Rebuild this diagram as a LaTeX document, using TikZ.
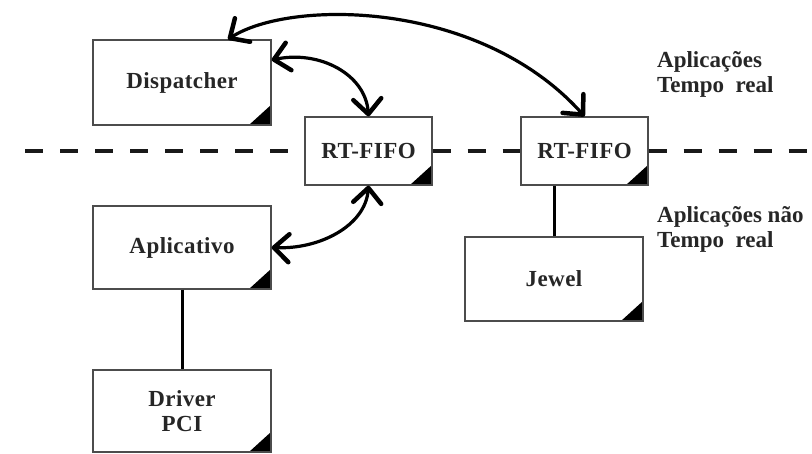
\documentclass[tikz,border=0pt]{standalone}
\usepackage{fontspec}
\setmainfont[LetterSpace=2]{Liberation Serif}
\newfontfamily\regionfont{Liberation Serif}
\usetikzlibrary{arrows.meta}
\tikzset{chbarb/.tip={Straight Barb[length=15pt,width=28pt,line width=4.5pt,round]}}
\begin{document}
\begin{tikzpicture}[x=1pt,y=-1pt,
  txt/.style={text=black!85, font=\bfseries\fontsize{23}{25}\selectfont},
  box/.style={txt, draw=black!70, line width=1.3pt, fill=white, inner sep=0pt,
    minimum width=178pt, align=center,
    path picture={\fill[black] (path picture bounding box.south east)
      -- ++(-22pt,0pt) -- ++(22pt,20pt) -- cycle;}},
  fifo/.style={box, minimum width=127pt, minimum height=68pt},
  lbl/.style={text=black!85, font=\regionfont\bfseries\fontsize{23}{25}\selectfont,
    inner sep=0pt, align=left},
  link/.style={line width=3pt, black},
  sep/.style={line width=4pt, black!90, dash pattern=on 18pt off 17pt},
  duplex/.style={line width=3.2pt, black, chbarb-chbarb}
]
\useasboundingbox (0,0) rectangle (812,454);

% real-time boundary
\coordinate (sepL) at (25,151);
\coordinate (sepR) at (812,151);

% processes and queues
\node[box, minimum height=85pt] (disp) at (182,82.5) {Dispatcher};
\node[fifo] (fifo1) at (368.5,151) {RT-FIFO};
\node[fifo] (fifo2) at (584.5,151) {RT-FIFO};
\node[box, minimum height=83pt] (apl) at (182,247.5) {Aplicativo};
\node[box, minimum height=82pt] (drv) at (182,411) {Driver\\PCI};
\node[box, minimum height=84pt] (jewel) at (554,279) {Jewel};

\draw[sep] (sepL) -- (fifo1.west);
\draw[sep] (fifo1.east) -- (fifo2.west);
\draw[sep] (fifo2.east) -- (sepR);

% region labels (base anchor sits on the last line)
\node[lbl, anchor=base west] (rtlbl) at (657,93) {Aplicações\\Tempo\ \ real};
\node[lbl, anchor=base west] (nrtlbl) at (657,248) {Aplicações não\\Tempo\ \ real};

% plain links
\draw[link] (apl.south) -- (drv.north);
\draw[link] (jewel.north) -- (jewel.north |- fifo2.south);

% bidirectional channels
\draw[duplex] ([xshift=46pt]disp.north) .. controls +(62,-40) and +(-105,-117) .. (fifo2.north);
\draw[duplex] ([yshift=22.5pt]disp.east) .. controls +(48,-10) and +(-3,-42) .. (fifo1.north);
\draw[duplex] (apl.east) .. controls +(48,2) and +(-3,40) .. (fifo1.south);
\end{tikzpicture}
\end{document}
